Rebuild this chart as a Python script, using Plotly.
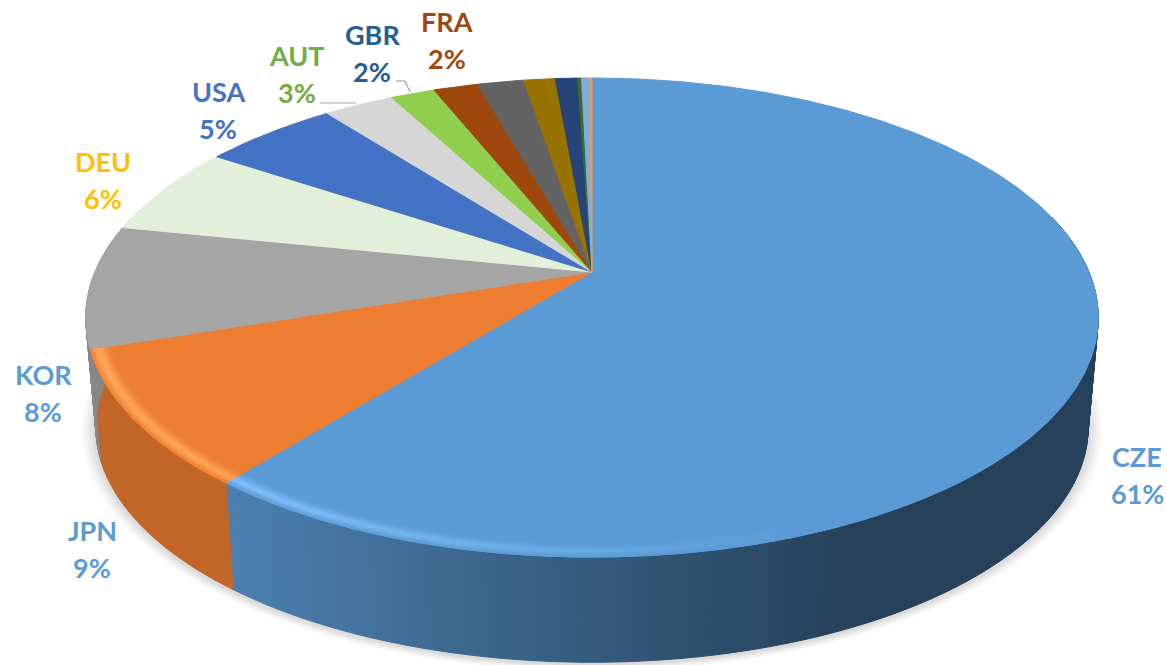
import math
import plotly.graph_objects as go

# ---- data -------------------------------------------------------------
countries = ["CZE", "JPN", "KOR", "DEU", "USA", "AUT", "GBR", "FRA",
             "OT1", "OT2", "OT3", "OT4", "OT5", "OT6"]
shares = [60.8, 9.1, 8.3, 6.1, 5.2, 2.7, 1.7, 1.7, 1.8, 1.2, 0.85, 0.15, 0.3, 0.1]
top_colors = ["#5B9BD5", "#ED7D31", "#A5A5A5", "#E2EFDA", "#4472C4", "#D6D6D6", "#8FCF4D",
              "#9E480E", "#636363", "#997300", "#264478", "#43682B", "#7CAFDD", "#F1975A"]
label_colors = {"CZE": "#5B9BD5", "JPN": "#5B9BD5", "KOR": "#5B9BD5", "DEU": "#FFC000",
                "USA": "#4472C4", "AUT": "#70AD47", "GBR": "#255E91", "FRA": "#9E480E"}
label_pos = {"CZE": (1137, 456), "JPN": (92, 530), "KOR": (43, 374), "DEU": (103, 161),
             "USA": (218, 91), "AUT": (297, 55), "GBR": (372, 34), "FRA": (447, 21)}
LINE_GAP = 37.5

# ---- projection: a flat disc seen in perspective ------------------------
APEX_X, APEX_Y = 592.0, 272.0
A, B, C = 497.0, 179.2, -0.19
DEPTH, SHRINK, MID_Y = 110.0, 0.98, 318.0


def project(theta, r=1.0):
    u, v = r * math.sin(theta), -r * math.cos(theta)
    w = 1 + C * v
    return APEX_X + A * u / w, (B * v + APEX_Y) / w


def lower(x, y):
    return APEX_X + (x - APEX_X) * SHRINK, MID_Y + (y - MID_Y) * SHRINK + DEPTH


def mix(c1, c2, t):
    t = max(0.0, min(1.0, t))
    return "rgb(%d,%d,%d)" % tuple(round(a + (b - a) * t) for a, b in zip(c1, c2))


def rgb(h):
    return tuple(int(h[i:i + 2], 16) for i in (1, 3, 5))


def wall_color(hexcol, x):
    """Side wall shading: lit at the left, dark towards the right."""
    c = rgb(hexcol)
    t = max(0.0, min(1.0, (x - 230) / 620))
    k = 0.82 + (0.42 - 0.82) * t
    return "rgb(%d,%d,%d)" % tuple(round(v * k) for v in c)


fig = go.Figure()


def poly(xs, ys, color, line=True):
    fig.add_trace(go.Scatter(x=xs, y=ys, mode="lines", fill="toself", fillcolor=color,
                             line=dict(color=color, width=1 if line else 0),
                             hoverinfo="skip", showlegend=False))


# soft shadow under the disc
N = 240
ring = [project(2 * math.pi * i / N) for i in range(N + 1)]
for grow, alpha in ((1.03, 0.02), (1.024, 0.025), (1.018, 0.03), (1.012, 0.03), (1.006, 0.04)):
    xs, ys = [], []
    for x, y in ring:
        lx, ly = lower(x, y)
        xs.append(APEX_X + (lx - APEX_X) * grow)
        ys.append(MID_Y + DEPTH + (ly - MID_Y - DEPTH) * grow + 2)
    poly(xs, ys, "rgba(0,0,0,%.3f)" % alpha, line=False)

# boundaries of the slices, clockwise from the top
total = sum(shares)
edges = [0.0]
for s in shares:
    edges.append(edges[-1] + 2 * math.pi * s / total)

# side wall
for i, col in enumerate(top_colors):
    a0, a1 = edges[i], edges[i + 1]
    steps = max(2, int((a1 - a0) / 0.012))
    for k in range(steps):
        t0 = a0 + (a1 - a0) * k / steps
        t1 = a0 + (a1 - a0) * (k + 1) / steps
        if math.cos((t0 + t1) / 2) > 0.25:
            continue
        x0, y0 = project(t0)
        x1, y1 = project(t1)
        lx0, ly0 = lower(x0, y0)
        lx1, ly1 = lower(x1, y1)
        poly([x0, x1, lx1, lx0, x0], [y0, y1, ly1, ly0, y0], wall_color(col, (x0 + x1) / 2))

# top face
for i, col in enumerate(top_colors):
    a0, a1 = edges[i], edges[i + 1]
    steps = max(2, int((a1 - a0) / 0.01))
    pts = [project(a0 + (a1 - a0) * k / steps) for k in range(steps + 1)]
    xs = [APEX_X] + [p[0] for p in pts] + [APEX_X]
    ys = [APEX_Y] + [p[1] for p in pts] + [APEX_Y]
    poly(xs, ys, col)

# bright bevel along the front rim (blue and orange only)
BEVEL = ((0.966, 0.12), (0.970, 0.25), (0.974, 0.45), (0.978, 0.65), (0.982, 0.85),
         (0.986, 0.9), (0.990, 0.7), (0.994, 0.45), (0.998, 0.2))
for i, col in enumerate(top_colors[:2]):
    a0, a1 = edges[i], edges[i + 1]
    base = rgb(col)
    light = tuple(min(255, v + 40) for v in base)
    steps = max(2, int((a1 - a0) / 0.012))
    for r, w in BEVEL:
        for k in range(steps):
            t0 = a0 + (a1 - a0) * k / steps
            t1 = a0 + (a1 - a0) * (k + 1) / steps
            x0, y0 = project(t0, r)
            x1, y1 = project(t1, r)
            if math.cos((t0 + t1) / 2) > -0.05:
                continue
            fade = 1 - (((x0 + x1) / 2) - 240) / 560
            fig.add_trace(go.Scatter(x=[x0, x1], y=[y0, y1], mode="lines",
                                     line=dict(color=mix(base, light, fade * w), width=2.5),
                                     hoverinfo="skip", showlegend=False))

# data labels
for name, share in zip(countries, shares):
    if name not in label_pos:
        continue
    x, y = label_pos[name]
    for text, yy in ((name, y), (f"{round(share)}%", y + LINE_GAP)):
        fig.add_annotation(x=x, y=yy, text=f"<b>{text}</b>", showarrow=False, xref="x", yref="y",
                           font=dict(family="Lato", size=27, color=label_colors[name]))

# leader lines
LEADER = dict(type="line", xref="x", yref="y", line=dict(color="#A6A6A6", width=1.2))
fig.add_shape(x0=320, y0=103, x1=356, y1=103, **LEADER)
fig.add_shape(x0=396, y0=81, x1=405, y1=81, **LEADER)
fig.add_shape(x0=405, y0=81, x1=410, y1=92, **LEADER)

fig.update_layout(
    width=1167, height=665, margin=dict(l=0, r=0, t=0, b=0),
    paper_bgcolor="white", plot_bgcolor="white", showlegend=False,
    xaxis=dict(range=[0, 1167], visible=False, fixedrange=True),
    yaxis=dict(range=[665, 0], visible=False, fixedrange=True),
)
fig.write_html("out.html", config=dict(displayModeBar=False),
               post_script="document.body.style.margin='0';document.body.style.overflow='hidden';")
